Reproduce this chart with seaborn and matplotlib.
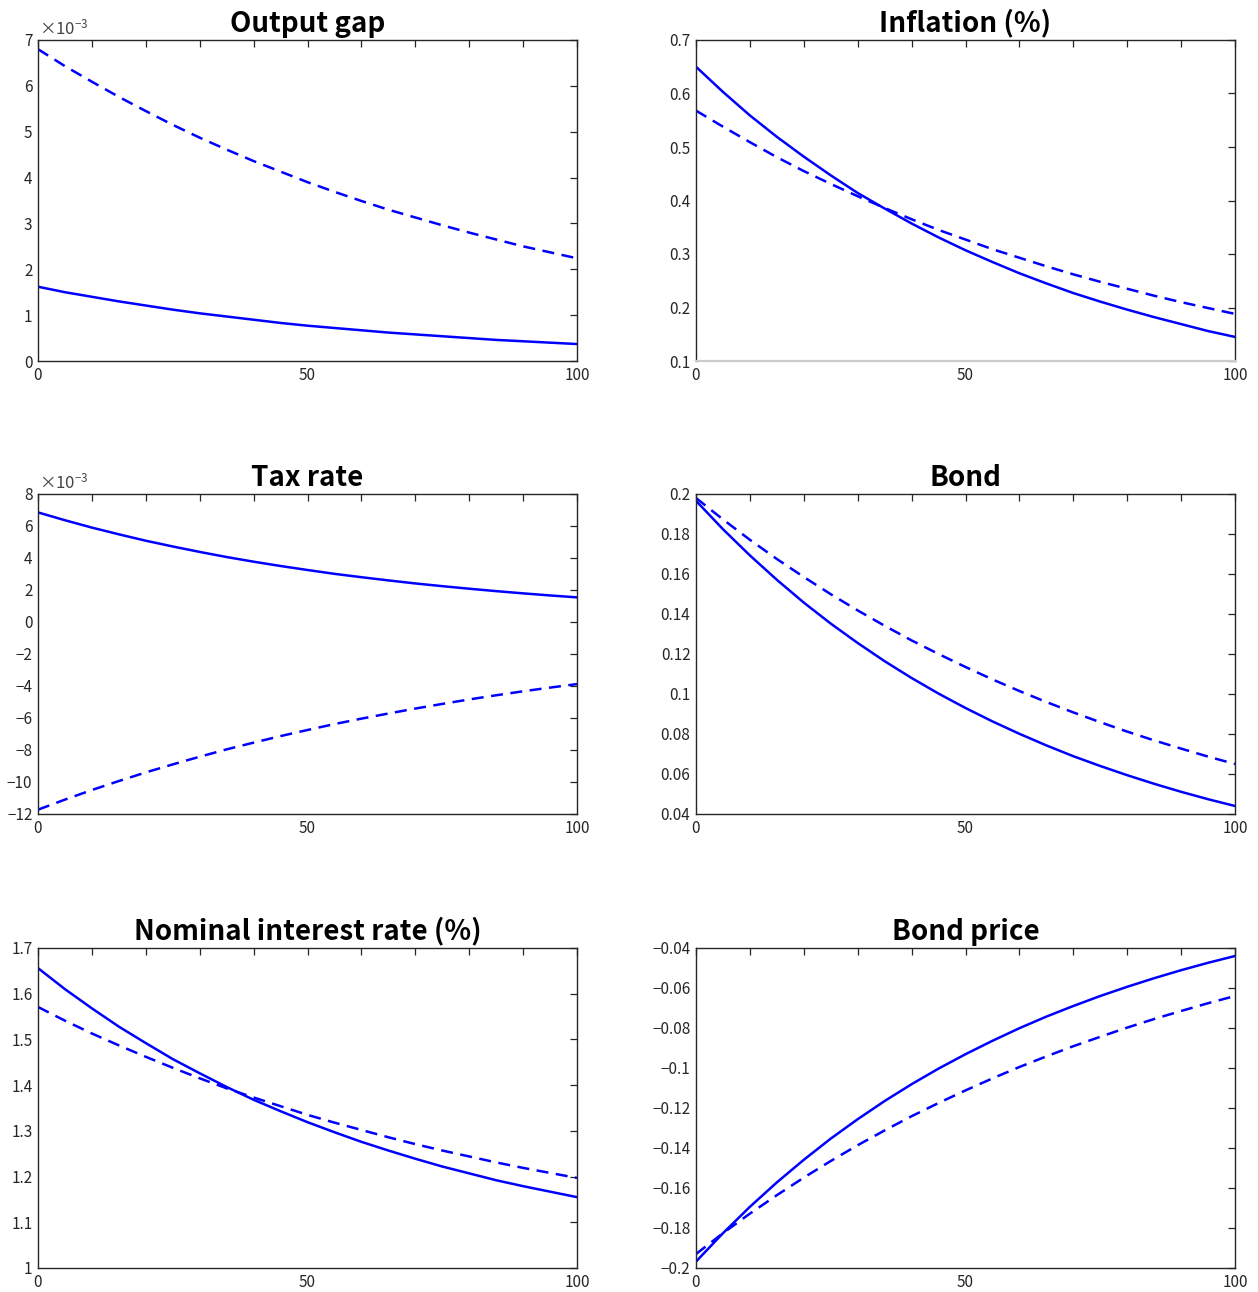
import numpy as np
import matplotlib
matplotlib.use("Agg")
from matplotlib import pyplot as plt
from matplotlib.ticker import MultipleLocator, FuncFormatter
import seaborn as sns

# periods 0..100 read every 5 steps
periods = list(range(0, 101, 5))

# output gap (x 1e-3)
output_gap_solid = [1.62, 1.50, 1.40, 1.30, 1.21, 1.12, 1.04, 0.97, 0.90, 0.83, 0.77,
                    0.72, 0.67, 0.62, 0.58, 0.54, 0.50, 0.46, 0.43, 0.40, 0.37]
output_gap_dashed = [6.80, 6.43, 6.09, 5.76, 5.45, 5.15, 4.87, 4.61, 4.36, 4.13, 3.90,
                     3.69, 3.49, 3.30, 3.13, 2.96, 2.80, 2.65, 2.50, 2.37, 2.24]

# inflation (%)
inflation_solid = [0.650, 0.603, 0.559, 0.519, 0.482, 0.447, 0.414, 0.385, 0.357, 0.331, 0.307,
                   0.285, 0.264, 0.245, 0.227, 0.211, 0.196, 0.182, 0.169, 0.156, 0.145]
inflation_dashed = [0.568, 0.538, 0.509, 0.481, 0.455, 0.431, 0.408, 0.386, 0.365, 0.345, 0.327,
                    0.309, 0.293, 0.277, 0.262, 0.248, 0.235, 0.222, 0.210, 0.199, 0.188]

# tax rate (x 1e-3)
tax_solid = [6.85, 6.36, 5.90, 5.48, 5.08, 4.72, 4.38, 4.06, 3.77, 3.50, 3.25,
             3.01, 2.80, 2.60, 2.41, 2.24, 2.08, 1.93, 1.79, 1.66, 1.54]
tax_dashed = [-11.73, -11.10, -10.50, -9.94, -9.40, -8.90, -8.42, -7.96, -7.54, -7.13, -6.75,
              -6.38, -6.04, -5.72, -5.41, -5.12, -4.84, -4.58, -4.33, -4.10, -3.88]

# bond
bond_solid = [0.1966, 0.1824, 0.1693, 0.1571, 0.1457, 0.1352, 0.1255, 0.1164, 0.1080, 0.1002, 0.0930,
              0.0863, 0.0801, 0.0743, 0.0689, 0.0640, 0.0594, 0.0551, 0.0511, 0.0474, 0.0440]
bond_dashed = [0.1980, 0.1873, 0.1771, 0.1675, 0.1585, 0.1499, 0.1418, 0.1341, 0.1268, 0.1200, 0.1135,
               0.1073, 0.1015, 0.0960, 0.0908, 0.0859, 0.0812, 0.0768, 0.0727, 0.0687, 0.0650]

# nominal interest rate (%)
nominal_solid = [1.656, 1.610, 1.568, 1.528, 1.492, 1.457, 1.426, 1.396, 1.368, 1.343, 1.319,
                 1.297, 1.276, 1.257, 1.239, 1.222, 1.207, 1.192, 1.179, 1.167, 1.155]
nominal_dashed = [1.571, 1.541, 1.513, 1.487, 1.462, 1.438, 1.415, 1.393, 1.373, 1.354, 1.335,
                  1.318, 1.302, 1.286, 1.271, 1.257, 1.244, 1.231, 1.219, 1.208, 1.197]

# bond price
bond_price_solid = [-0.1968, -0.1826, -0.1694, -0.1572, -0.1459, -0.1353, -0.1256, -0.1165, -0.1081, -0.1003, -0.0931,
                    -0.0864, -0.0801, -0.0743, -0.0690, -0.0640, -0.0594, -0.0551, -0.0511, -0.0474, -0.0440]
bond_price_dashed = [-0.1930, -0.1826, -0.1728, -0.1636, -0.1548, -0.1465, -0.1386, -0.1312, -0.1241, -0.1175, -0.1112,
                     -0.1052, -0.0995, -0.0942, -0.0891, -0.0844, -0.0798, -0.0755, -0.0715, -0.0676, -0.0640]

titles = ["Output gap", "Inflation (%)", "Tax rate", "Bond", "Nominal interest rate (%)", "Bond price"]
series = [(output_gap_solid, output_gap_dashed), (inflation_solid, inflation_dashed),
          (tax_solid, tax_dashed), (bond_solid, bond_dashed),
          (nominal_solid, nominal_dashed), (bond_price_solid, bond_price_dashed)]
ylims = [(0, 7), (0.1, 0.7), (-12, 8), (0.04, 0.2), (1, 1.7), (-0.2, -0.04)]
ysteps = [1, 0.1, 2, 0.02, 0.1, 0.02]
scaled = [True, False, True, False, False, False]   # panels shown with x10^-3

sns.set_style("white")
plt.rcParams["font.family"] = ["Noto Sans CJK JP", "DejaVu Sans"]
plt.rcParams["axes.unicode_minus"] = True
plt.rcParams["mathtext.default"] = "regular"

fig = plt.figure(figsize=(12.58, 12.92), dpi=100)
W, H = 1258, 1292
col_x = [38, 696]
row_y = [(40, 361), (494, 814), (948, 1268)]
axis_color = "#262626"


def fmt(v, pos):
    s = f"{round(v, 6):g}"
    return s.replace("-", "\u2212")


for i, title in enumerate(titles):
    r, c = divmod(i, 2)
    top, bot = row_y[r]
    ax = fig.add_axes([col_x[c] / W, 1 - bot / H, 539 / W, (bot - top) / H])
    solid, dashed = series[i]
    sns.lineplot(x=periods, y=solid, ax=ax, color="blue", linewidth=1.8)
    sns.lineplot(x=periods, y=dashed, ax=ax, color="blue", linewidth=1.8)
    ax.lines[-1].set_dashes((4.8, 3.0))
    ax.set_xlim(0, 100)
    ax.set_ylim(*ylims[i])
    ax.xaxis.set_major_locator(MultipleLocator(10))
    ax.xaxis.set_major_formatter(FuncFormatter(lambda v, p: f"{v:g}" if round(v) % 50 == 0 else ""))
    ax.yaxis.set_major_locator(MultipleLocator(ysteps[i]))
    ax.yaxis.set_major_formatter(FuncFormatter(fmt))
    ax.tick_params(direction="in", length=5, width=0.9, color=axis_color, labelcolor=axis_color,
                   labelsize=11, top=True, right=True, pad=4)
    for sp in ax.spines.values():
        sp.set_visible(True)
        sp.set_color(axis_color)
        sp.set_linewidth(1.0)
    if i == 1:
        ax.spines["bottom"].set_color("#cccccc")
        ax.spines["bottom"].set_linewidth(1.6)
    ax.set_title(title, fontsize=20, fontweight="bold", pad=6, color="black")
    ax.set_xlabel("")
    ax.set_ylabel("")
    if scaled[i]:
        ax.text(0.002, 1.004, r"$\times$10$^{-3}$", transform=ax.transAxes, ha="left", va="bottom",
                fontsize=12, color="#444444")

fig.savefig("out.png", dpi=100)
